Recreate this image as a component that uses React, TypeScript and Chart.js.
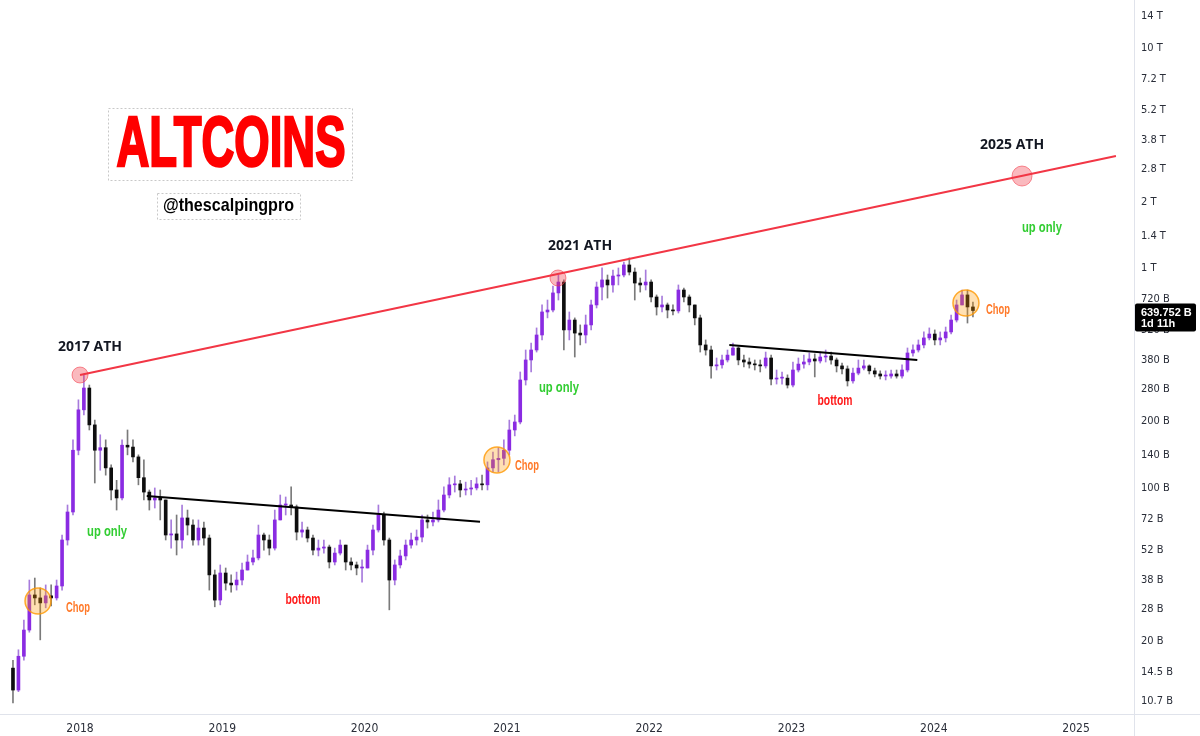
import React, { useEffect, useRef } from 'react';
import { Chart, registerables } from 'chart.js';

Chart.register(...registerables);

// ---- time axis (decimal years) ----
const xMinYear = 2017.4378;
const xMaxYear = 2025.4069;
const xTickYears = [2018, 2019, 2020, 2021, 2022, 2023, 2024, 2025];

// two-week candles, first one in July 2017
const candleStartYear = 2017.529;
const candleStepYears = 14 / 365.25;
const firstOpen = 15.1; // billions USD

// ---- candle values (billions USD) ----
const closes = [
  12.0, 17.1, 22.5, 32.5, 31.5, 29.9, 32.2, 31.5, 35.7, 57.8,
  77.5, 148, 226, 284, 193, 148, 152, 123, 97.6, 89.8,
  156, 153, 138, 111, 95.5, 87.9, 89.8, 87.9, 60.9, 61.6,
  57.8, 72.8, 67.6, 57.8, 65.5, 59.0, 40.1, 30.8, 40.9, 36.8,
  36.1, 38.0, 42.2, 45.9, 47.9, 60.9, 57.8, 53.1, 71.3, 83.4,
  83.4, 81.7, 62.8, 64.2, 59.0, 52.0, 53.1, 53.7, 45.9, 50.4,
  54.8, 45.9, 44.5, 43.1, 43.1, 52.0, 64.2, 75.1, 57.8, 38.0,
  44.5, 48.9, 54.8, 57.8, 59.6, 71.3, 69.8, 71.3, 79.1, 92.6,
  103, 104, 97.6, 98.6, 99.7, 104, 103, 123, 134, 136,
  148, 183, 199, 309, 381, 423, 495, 630, 643, 769,
  862, 522, 579, 505, 495, 550, 678, 818, 881, 836,
  918, 928, 1031, 957, 853, 836, 862, 737, 664, 678,
  643, 637, 793, 737, 678, 592, 446, 423, 358, 362,
  381, 401, 432, 381, 373, 365, 362, 358, 389, 312,
  315, 315, 293, 343, 365, 373, 385, 377, 393, 397,
  381, 358, 347, 306, 332, 350, 358, 340, 329, 322,
  322, 329, 322, 343, 410, 423, 446, 480, 500, 470,
  480, 511, 579, 678, 753, 664, 639.752,
];

const highs = [
  16.4, 18.3, 25.0, 38.0, 38.8, 35.0, 36.1, 36.1, 38.0, 60.9,
  83.4, 165, 251, 329, 293, 203, 174, 165, 127, 108,
  165, 183, 165, 141, 134, 97.6, 99.7, 97.6, 87.9, 71.3,
  75.1, 83.4, 79.1, 71.3, 71.3, 69.8, 60.9, 42.2, 44.5, 43.1,
  40.1, 41.3, 45.4, 49.4, 52.0, 67.6, 62.2, 60.9, 79.1, 92.6,
  90.7, 101, 83.4, 69.8, 66.2, 60.9, 57.8, 57.8, 54.8, 53.1,
  57.8, 54.8, 47.9, 45.9, 46.9, 54.8, 67.6, 83.4, 77.5, 59.0,
  46.9, 52.0, 57.8, 62.2, 64.2, 75.1, 75.1, 77.5, 87.9, 101,
  111, 113, 108, 106, 108, 111, 114, 131, 145, 152,
  165, 203, 214, 336, 423, 455, 533, 678, 714, 827,
  928, 881, 630, 592, 550, 610, 714, 862, 999, 928,
  978, 999, 1063, 1109, 999, 899, 978, 881, 753, 745,
  692, 678, 836, 810, 753, 678, 610, 470, 441, 389,
  401, 423, 455, 437, 401, 389, 381, 381, 414, 401,
  343, 336, 326, 373, 389, 401, 410, 406, 414, 423,
  414, 389, 369, 358, 350, 381, 381, 362, 350, 340,
  340, 343, 343, 362, 432, 446, 470, 511, 533, 522,
  511, 538, 610, 714, 793, 793, 699,
];

const lows = [
  10.5, 11.8, 16.4, 22.0, 29.3, 20.3, 28.4, 29.0, 30.8, 34.2,
  54.8, 75.1, 141, 214, 183, 105, 120, 114, 87.9, 79.1,
  87.9, 141, 131, 103, 87.9, 79.1, 80.8, 71.3, 57.8, 53.1,
  49.4, 53.1, 60.9, 54.8, 54.8, 54.8, 34.2, 28.7, 29.3, 34.2,
  33.5, 34.2, 36.1, 42.2, 44.5, 46.9, 52.0, 49.4, 52.0, 71.3,
  75.1, 75.1, 57.8, 59.6, 56.6, 49.4, 48.9, 50.4, 43.1, 44.5,
  49.4, 42.2, 42.2, 40.1, 37.2, 43.1, 49.4, 62.8, 54.8, 27.8,
  36.1, 43.1, 46.9, 53.1, 54.8, 56.6, 65.5, 66.9, 69.8, 77.5,
  89.8, 95.5, 90.7, 92.6, 92.6, 97.6, 97.6, 97.6, 118, 118,
  127, 141, 172, 195, 293, 336, 414, 470, 592, 630,
  714, 423, 470, 393, 446, 455, 522, 657, 714, 729,
  776, 836, 909, 928, 714, 776, 793, 699, 610, 630,
  592, 610, 623, 699, 630, 550, 414, 401, 315, 343,
  350, 373, 401, 362, 354, 350, 343, 336, 350, 293,
  296, 296, 284, 287, 336, 350, 362, 319, 369, 373,
  365, 336, 329, 290, 299, 326, 343, 329, 319, 312,
  309, 315, 315, 315, 336, 397, 414, 432, 470, 446,
  446, 460, 500, 567, 678, 561, 598,
];

// ---- value axis ----
const yMinValue = 9.338;
const yMaxValue = 16544;
const yTickValues = [10.7, 14.5, 20, 28, 38, 52, 72, 100, 140, 200, 280, 380, 520, 720, 1000, 1400, 2000, 2800, 3800, 5200, 7200, 10000, 14000];
const yTickLabels = ['10.7 B', '14.5 B', '20 B', '28 B', '38 B', '52 B', '72 B', '100 B', '140 B', '200 B', '280 B', '380 B', '520 B', '720 B', '1 T', '1.4 T', '2 T', '2.8 T', '3.8 T', '5.2 T', '7.2 T', '10 T', '14 T'];

// ---- drawn lines ----
const athTrendTimes = [2018.0, 2025.28];
const athTrendValues = [325.5, 3228];
const resistance1Times = [2018.469, 2020.811];
const resistance1Values = [91.6, 70.0];
const resistance2Times = [2022.563, 2023.884];
const resistance2Values = [445.8, 380.9];

// ---- circles ----
const athCircleTimes = [2018.0, 2021.359, 2024.62];
const athCircleValues = [325.5, 899.3, 2617];
const chopCircleTimes = [2017.705, 2020.93, 2024.226];
const chopCircleValues = [30.5, 133.6, 692];

// ---- annotation texts ----
const athLabels = ['2017 ATH', '2021 ATH', '2025 ATH'];
const athLabelTimes = [2018.07, 2021.514, 2024.55];
const athLabelValues = [436.5, 1258, 3623];
const upOnlyTimes = [2018.19, 2021.366, 2024.76];
const upOnlyValues = [62.8, 284, 1518];
const chopLabelTimes = [2017.986, 2021.141, 2024.451];
const chopLabelValues = [28.35, 125.4, 643];
const bottomTimes = [2019.567, 2023.306];
const bottomValues = [30.8, 248];

const lastPriceText = '639.752 B';
const countdownText = '1d 11h';

const UP_BODY = '#8a2be2';
const UP_WICK = '#a77bdc';
const DOWN_BODY = '#0e0e0e';
const DOWN_WICK = '#7a7a7a';
const AXIS_FONT = '"Liberation Sans Narrow", "DejaVu Sans Condensed", "Liberation Sans", Arial, sans-serif';
const COND_FONT = '"Liberation Sans", Arial, sans-serif';

const annotationPlugin = {
  id: 'tvAnnotations',
  afterDatasetsDraw(chart: any) {
    const { ctx } = chart;
    const xs = chart.scales.x;
    const ys = chart.scales.y;
    ctx.save();
    ctx.textAlign = 'center';
    ctx.textBaseline = 'middle';
    const put = (text: string, t: number, v: number, font: string, color: string, maxW?: number) => {
      ctx.font = font;
      ctx.fillStyle = color;
      const px = xs.getPixelForValue(t);
      const py = ys.getPixelForValue(v);
      if (maxW) ctx.fillText(text, px, py, maxW);
      else ctx.fillText(text, px, py);
    };
    athLabels.forEach((s, i) => put(s, athLabelTimes[i], athLabelValues[i], 'bold 14px "Open Sans", Arial, sans-serif', '#131722'));
    upOnlyTimes.forEach((t, i) => put('up only', t, upOnlyValues[i], 'bold 14px ' + COND_FONT, '#32cd32', 40));
    chopLabelTimes.forEach((t, i) => put('Chop', t, chopLabelValues[i], 'bold 14px ' + COND_FONT, '#ff7a2a', 24));
    bottomTimes.forEach((t, i) => put('bottom', t, bottomValues[i], 'bold 14px ' + COND_FONT, '#ff1a1a', 35));

    // title watermark boxes
    ctx.setLineDash([2, 2]);
    ctx.strokeStyle = '#c8c8c8';
    ctx.lineWidth = 1;
    ctx.strokeRect(108.5, 108.5, 244, 72);
    ctx.strokeRect(157.5, 193.5, 143, 26);
    ctx.setLineDash([]);
    ctx.textBaseline = 'alphabetic';
    ctx.font = 'bold 70px ' + COND_FONT;
    ctx.fillStyle = '#ff0000';
    ctx.strokeStyle = '#ff0000';
    ctx.lineWidth = 2.5;
    ctx.lineJoin = 'miter';
    ctx.fillText('ALTCOINS', 231, 166, 229);
    ctx.strokeText('ALTCOINS', 231, 166, 229);
    ctx.font = 'bold 19px ' + COND_FONT;
    ctx.fillStyle = '#000000';
    ctx.fillText('@thescalpingpro', 228.5, 211, 131);
    ctx.restore();
  },
  afterDraw(chart: any) {
    const { ctx, chartArea } = chart;
    const ys = chart.scales.y;
    ctx.save();
    ctx.strokeStyle = '#e0e3eb';
    ctx.lineWidth = 1;
    ctx.beginPath();
    ctx.moveTo(chartArea.right + 0.5, 0);
    ctx.lineTo(chartArea.right + 0.5, chart.height);
    ctx.moveTo(0, chartArea.bottom + 0.5);
    ctx.lineTo(chart.width, chartArea.bottom + 0.5);
    ctx.stroke();
    // last price label
    const last = closes[closes.length - 1];
    const py = ys.getPixelForValue(last);
    ctx.fillStyle = '#000000';
    ctx.beginPath();
    const bx = chartArea.right + 1, by = py - 7, bw = 61, bh = 28;
    if (ctx.roundRect) ctx.roundRect(bx, by, bw, bh, 2);
    else ctx.rect(bx, by, bw, bh);
    ctx.fill();
    ctx.fillStyle = '#ffffff';
    ctx.font = 'bold 11px ' + COND_FONT;
    ctx.textAlign = 'left';
    ctx.textBaseline = 'middle';
    ctx.fillText(lastPriceText, chartArea.right + 7, py + 2.5, 52);
    ctx.fillText(countdownText, chartArea.right + 7, py + 13.5);
    ctx.restore();
  },
};

const zeroPadding = (s: any) => {
  s.paddingLeft = 0;
  s.paddingRight = 0;
  s.paddingTop = 0;
  s.paddingBottom = 0;
};

export default function App() {
  const ref = useRef<HTMLCanvasElement>(null);

  useEffect(() => {
    const canvas = ref.current;
    if (!canvas) return;
    const opens = closes.map((_, i) => (i === 0 ? firstOpen : closes[i - 1]));
    const times = closes.map((_, i) => candleStartYear + i * candleStepYears);
    const isUp = closes.map((c, i) => c >= opens[i]);
    const wickData = times.map((t, i) => ({
      x: t,
      y: [Math.min(lows[i], opens[i], closes[i]), Math.max(highs[i], opens[i], closes[i])],
    }));
    const bodyData = times.map((t, i) => ({ x: t, y: [opens[i], closes[i]] }));

    const chart = new Chart(canvas, {
      type: 'bar',
      data: {
        datasets: [
          {
            type: 'bar',
            data: wickData as any,
            backgroundColor: isUp.map((u) => (u ? UP_WICK : DOWN_WICK)),
            barThickness: 1,
            grouped: false,
            borderWidth: 0,
            order: 6,
          } as any,
          {
            type: 'bar',
            data: bodyData as any,
            backgroundColor: isUp.map((u) => (u ? UP_BODY : DOWN_BODY)),
            barThickness: 3,
            grouped: false,
            borderWidth: 0,
            minBarLength: 1,
            order: 5,
          } as any,
          {
            type: 'line',
            data: resistance1Times.map((t, i) => ({ x: t, y: resistance1Values[i] })),
            borderColor: '#000000',
            borderWidth: 2,
            pointRadius: 0,
            order: 4,
          } as any,
          {
            type: 'line',
            data: resistance2Times.map((t, i) => ({ x: t, y: resistance2Values[i] })),
            borderColor: '#000000',
            borderWidth: 2,
            pointRadius: 0,
            order: 4,
          } as any,
          {
            type: 'line',
            data: athTrendTimes.map((t, i) => ({ x: t, y: athTrendValues[i] })),
            borderColor: '#f23645',
            borderWidth: 2,
            pointRadius: 0,
            order: 3,
          } as any,
          {
            type: 'line',
            data: chopCircleTimes.map((t, i) => ({ x: t, y: chopCircleValues[i] })),
            showLine: false,
            pointRadius: 13,
            pointBackgroundColor: 'rgba(255,152,0,0.3)',
            pointBorderColor: 'rgba(255,152,0,0.8)',
            pointBorderWidth: 1.5,
            order: 2,
          } as any,
          {
            type: 'line',
            data: athCircleTimes.map((t, i) => ({ x: t, y: athCircleValues[i] })),
            showLine: false,
            pointRadius: [8, 8, 10],
            pointBackgroundColor: 'rgba(242,54,69,0.35)',
            pointBorderColor: 'rgba(242,54,69,0.55)',
            pointBorderWidth: 1,
            order: 1,
          } as any,
        ],
      },
      options: {
        animation: false,
        responsive: false,
        maintainAspectRatio: false,
        events: [],
        layout: { padding: 0, autoPadding: false },
        plugins: { legend: { display: false }, tooltip: { enabled: false } },
        scales: {
          x: {
            type: 'linear',
            min: xMinYear,
            max: xMaxYear,
            offset: false,
            grid: { display: false, drawTicks: false },
            border: { display: false },
            ticks: {
              padding: 8,
              autoSkip: false,
              maxRotation: 0,
              color: '#2a2e39',
              font: { family: AXIS_FONT, size: 12 },
              callback: (v: any) => String(v),
            },
            afterBuildTicks: (s: any) => {
              s.min = xMinYear;
              s.max = xMaxYear;
              s.ticks = xTickYears.map((v) => ({ value: v }));
            },
            afterFit: (s: any) => {
              s.height = 22;
              zeroPadding(s);
            },
          },
          y: {
            type: 'logarithmic',
            position: 'right',
            min: yMinValue,
            max: yMaxValue,
            grid: { display: false, drawTicks: false },
            border: { display: false },
            ticks: {
              padding: 7,
              autoSkip: false,
              color: '#2a2e39',
              font: { family: AXIS_FONT, size: 11 },
              callback: (v: any) => {
                const idx = yTickValues.indexOf(Number(v));
                return idx >= 0 ? yTickLabels[idx] : '';
              },
            },
            afterBuildTicks: (s: any) => {
              s.min = yMinValue;
              s.max = yMaxValue;
              s.ticks = yTickValues.map((v) => ({ value: v }));
            },
            afterFit: (s: any) => {
              s.width = 66;
              zeroPadding(s);
            },
          },
        },
      } as any,
      plugins: [annotationPlugin],
    });
    return () => chart.destroy();
  }, []);

  return (
    <div style={{ position: 'absolute', left: 0, top: 0, width: 1200, height: 736, background: '#ffffff' }}>
      <canvas ref={ref} width={1200} height={736} style={{ display: 'block', width: 1200, height: 736 }} />
    </div>
  );
}
